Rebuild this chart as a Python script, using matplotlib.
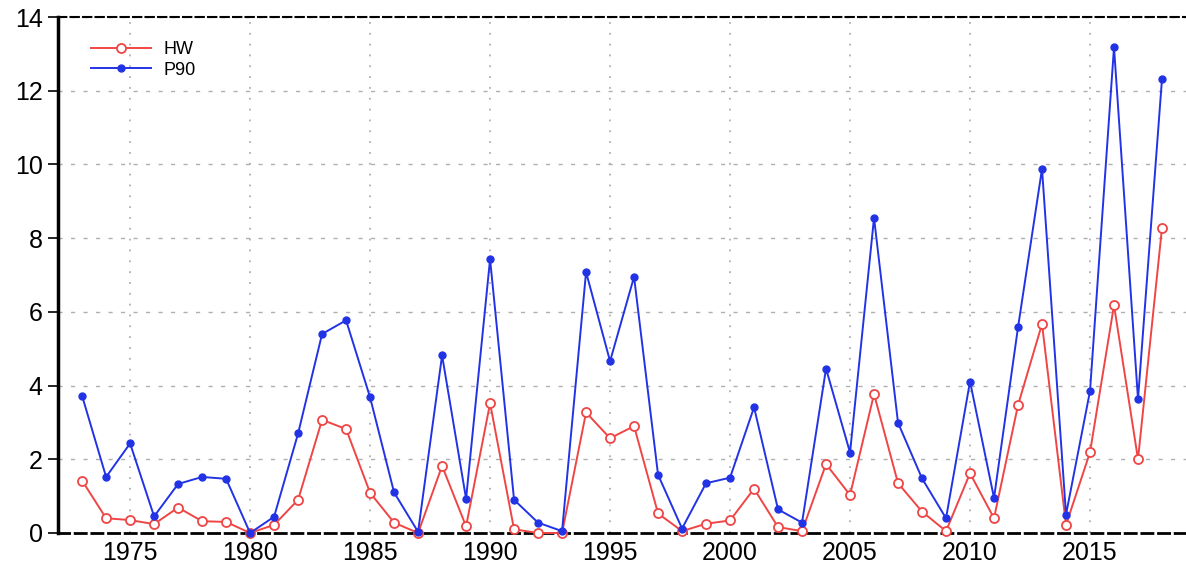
import numpy as np
import matplotlib
matplotlib.use('Agg')
import matplotlib.pyplot as plt

plt.rcParams['font.family'] = ['Liberation Sans', 'DejaVu Sans']

years = np.arange(1973, 2019)

hw = [1.42, 0.40, 0.35, 0.24, 0.69, 0.32, 0.30, 0.00, 0.22, 0.90,
      3.07, 2.82, 1.09, 0.28, 0.00, 1.82, 0.18, 3.52, 0.10, 0.00,
      0.00, 3.27, 2.57, 2.90, 0.53, 0.05, 0.25, 0.34, 1.20, 0.16,
      0.05, 1.87, 1.03, 3.77, 1.35, 0.58, 0.05, 1.62, 0.40, 3.47,
      5.67, 0.22, 2.19, 6.18, 2.00, 8.28]

p90 = [3.72, 1.52, 2.43, 0.45, 1.33, 1.52, 1.47, 0.00, 0.44, 2.70,
       5.40, 5.77, 3.68, 1.10, 0.03, 4.82, 0.93, 7.43, 0.90, 0.28,
       0.05, 7.08, 4.66, 6.95, 1.58, 0.12, 1.35, 1.50, 3.41, 0.64,
       0.28, 4.46, 2.18, 8.55, 2.99, 1.48, 0.40, 4.11, 0.95, 5.58,
       9.88, 0.50, 3.85, 13.18, 3.63, 12.32]

xticks = [1975, 1980, 1985, 1990, 1995, 2000, 2005, 2010, 2015]
yticks = [0, 2, 4, 6, 8, 10, 12, 14]

fig = plt.figure(figsize=(11.86, 5.67), dpi=100)
ax = fig.add_axes([0.049, 0.06, 0.951, 0.91])

ax.plot(years, hw, color='#f04545', lw=1.4, marker='o', ms=6.5,
        mfc='white', mec='#f04545', mew=1.3, label='HW', clip_on=False, zorder=3)
ax.plot(years, p90, color='#2233e6', lw=1.4, marker='o', ms=5,
        mfc='#2233e6', mec='#2233e6', label='P90', clip_on=False, zorder=4)

ax.set_xlim(1972, 2019)
ax.set_ylim(0, 14)
ax.set_xticks(xticks)
ax.set_yticks(yticks)

ax.xaxis.grid(True, linestyle=(0, (1, 5)), color='#b0b0b0', lw=1.3)
ax.yaxis.grid(True, linestyle=(0, (3, 6)), color='#b0b0b0', lw=1.0)
ax.set_axisbelow(True)

ax.spines['right'].set_visible(False)
ax.spines['left'].set_linewidth(2.5)
ax.spines['top'].set_linestyle((0, (4, 2)))
ax.spines['top'].set_linewidth(1.5)
ax.spines['bottom'].set_linestyle((0, (4, 2)))
ax.spines['bottom'].set_linewidth(2.0)

ax.tick_params(axis='x', length=0, labelsize=18, pad=6)
ax.tick_params(axis='y', length=7, width=1.2, labelsize=18, pad=4)

ax.legend(loc='upper left', bbox_to_anchor=(0.015, 0.985), frameon=False,
          fontsize=13, handlelength=3.3, handletextpad=0.7, labelspacing=0.2)

fig.savefig('out.png', dpi=100)
